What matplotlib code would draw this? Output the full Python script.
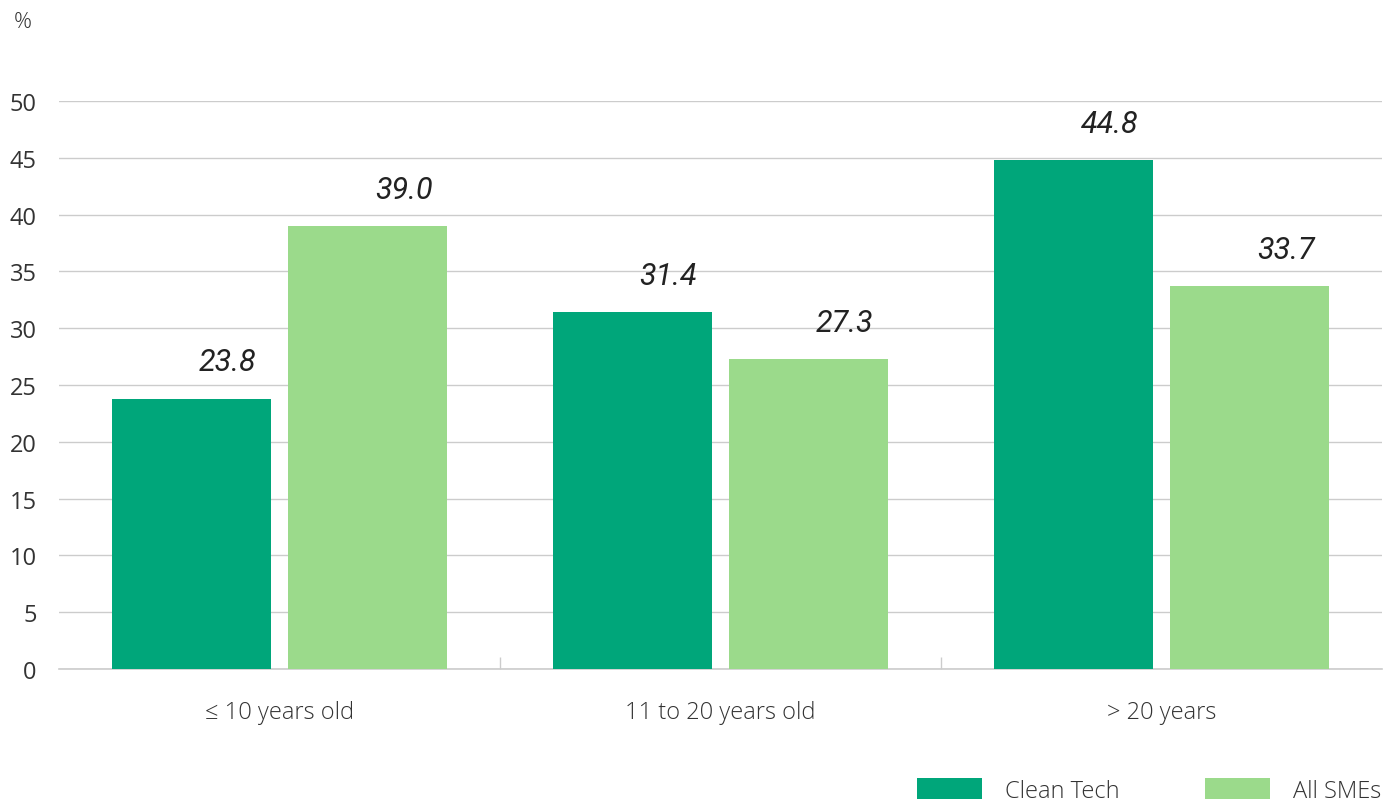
import numpy as np
import matplotlib.pyplot as plt

categories = ['≤ 10 years old', '11 to 20 years old', '> 20 years']
clean_tech = [23.8, 31.4, 44.8]
all_smes = [39.0, 27.3, 33.7]
series_names = ['Clean Tech', 'All SMEs']
yticks = [0, 5, 10, 15, 20, 25, 30, 35, 40, 45, 50]

dark = '#00a67a'
light = '#9bda8b'
grid_c = '#cccccc'
text_c = '#333333'

plt.rcParams['font.family'] = ['Open Sans', 'DejaVu Sans']

fig = plt.figure(figsize=(13.89, 8.04), dpi=100)
ax = fig.add_axes([59 / 1389, 134 / 804, 1323 / 1389, 568 / 804])

x = np.arange(len(categories))
w = 0.36
b1 = ax.bar(x - 0.2, clean_tech, w, color=dark, label=series_names[0], zorder=3)
b2 = ax.bar(x + 0.2, all_smes, w, color=light, label=series_names[1], zorder=3)

for bars in (b1, b2):
    for r in bars:
        ax.annotate(f'{r.get_height():.1f}', (r.get_x() + r.get_width() / 2, r.get_height()),
                    xytext=(26, 16), textcoords='offset points', ha='center', va='bottom',
                    fontsize=22, style='italic', family='Roboto', color='#222222',
                    annotation_clip=False)

ax.set_xlim(-0.5, 2.5)
ax.set_ylim(0, 50)
ax.set_yticks(yticks)
ax.yaxis.grid(True, color=grid_c, linewidth=1)
ax.set_axisbelow(True)
for s in ['top', 'right', 'left']:
    ax.spines[s].set_visible(False)
ax.spines['bottom'].set_color(grid_c)
ax.spines['bottom'].set_linewidth(1.2)

ax.set_xticks(x)
ax.set_xticklabels(categories, fontweight='light')
ax.set_xticks([0.5, 1.5], minor=True)
ax.tick_params(axis='x', which='major', length=0, pad=22, labelsize=17, labelcolor=text_c)
ax.tick_params(axis='x', which='minor', direction='in', length=9, color=grid_c, width=1)
ax.tick_params(axis='y', length=0, pad=16, labelsize=17, labelcolor=text_c)

fig.text(14 / 1389, 1 - 22 / 804, '%', fontsize=16, color=text_c, va='center',
         fontweight='light')

fig.legend(handles=[b1, b2], labels=series_names, loc='lower right',
           bbox_to_anchor=(1.010, -0.026), ncol=2, frameon=False,
           handlelength=2.75, handleheight=1.0, handletextpad=1.0, columnspacing=3.6,
           labelcolor=text_c, prop={'weight': 'light', 'size': 17})

fig.savefig('out.png', dpi=100)
